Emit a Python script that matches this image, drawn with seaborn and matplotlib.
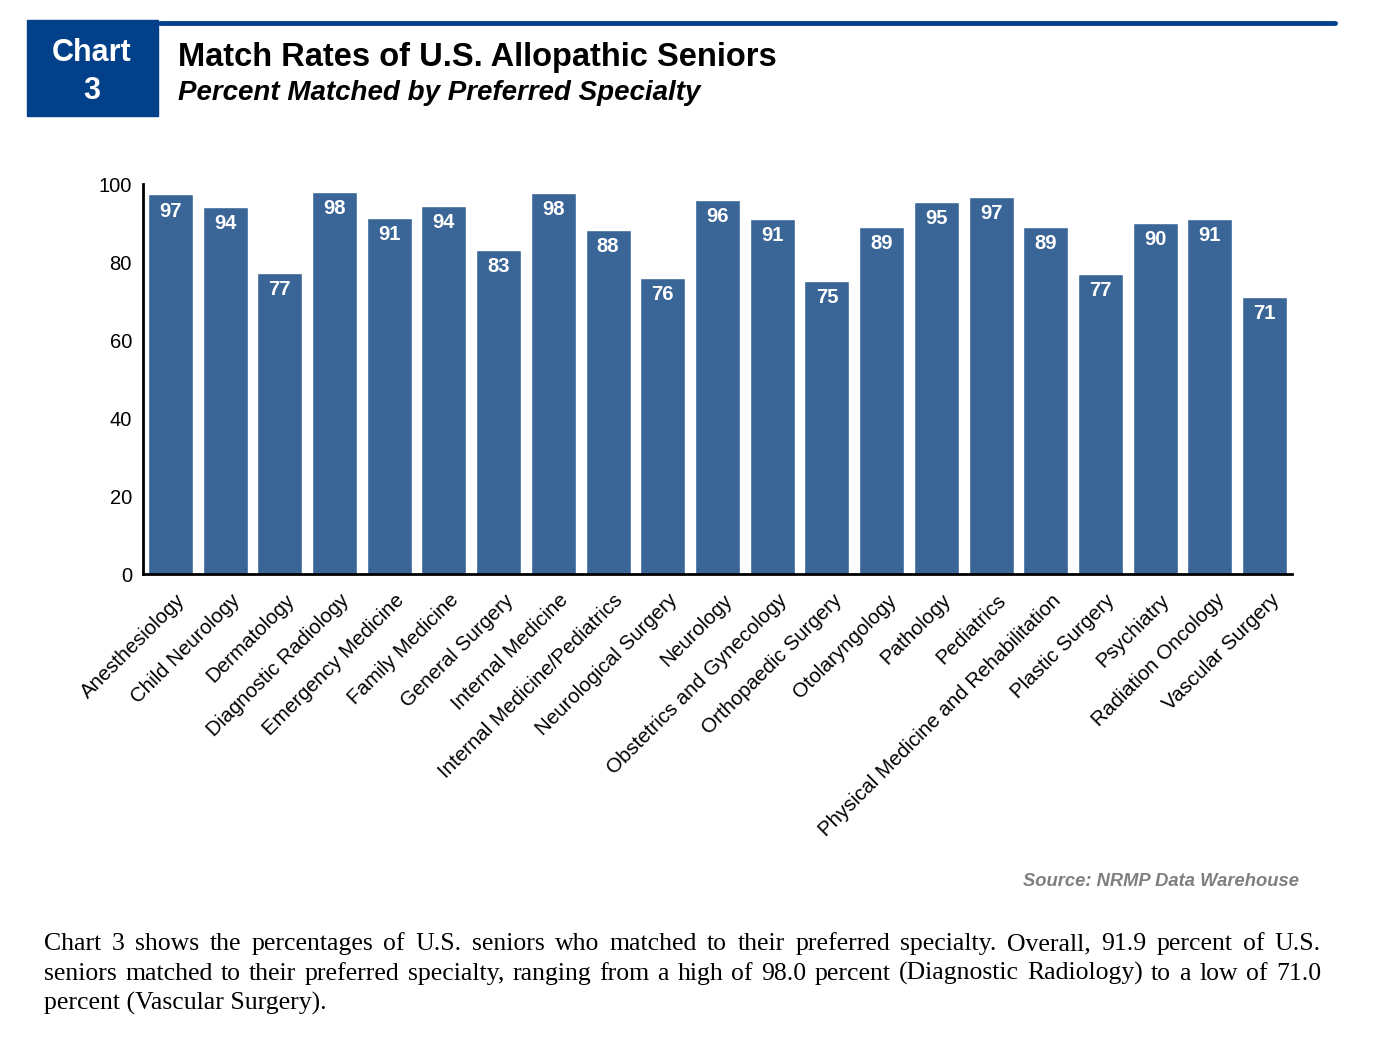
import matplotlib
matplotlib.use("Agg")
import matplotlib.pyplot as plt
import matplotlib.transforms as mtransforms
import seaborn as sns
import pandas as pd
from matplotlib.patches import Rectangle
from matplotlib.lines import Line2D

specialties = [
    "Anesthesiology", "Child Neurology", "Dermatology", "Diagnostic Radiology",
    "Emergency Medicine", "Family Medicine", "General Surgery", "Internal Medicine",
    "Internal Medicine/Pediatrics", "Neurological Surgery", "Neurology",
    "Obstetrics and Gynecology", "Orthopaedic Surgery", "Otolaryngology",
    "Pathology", "Pediatrics", "Physical Medicine and Rehabilitation",
    "Plastic Surgery", "Psychiatry", "Radiation Oncology", "Vascular Surgery",
]
match_rates = [97.4, 94.1, 77.2, 98.0, 91.3, 94.4, 83.1, 97.7, 88.2, 75.9, 95.9,
               91.0, 75.1, 89.0, 95.4, 96.7, 89.0, 76.9, 90.0, 91.0, 71.0]

body_lines = [
    "Chart 3 shows the percentages of U.S. seniors who matched to their preferred specialty. Overall, 91.9 percent of U.S.",
    "seniors matched to their preferred specialty, ranging from a high of 98.0 percent (Diagnostic Radiology) to a low of 71.0",
    "percent (Vascular Surgery).",
]

W, H = 1374, 1038
BAR = "#3A6597"
NAVY = "#03408A"
SERIF = ["Liberation Serif", "DejaVu Serif"]

sns.set_theme(style="white")
plt.rcParams["font.family"] = ["Liberation Sans", "DejaVu Sans"]
plt.rcParams["text.color"] = "black"

fig = plt.figure(figsize=(W / 100, H / 100), dpi=100)
fig.patch.set_facecolor("white")

# chart area
ax = fig.add_axes([143 / W, 1 - 574 / H, (1292 - 143) / W, (574 - 184) / H])
df = pd.DataFrame({"specialty": specialties, "rate": match_rates})
sns.barplot(data=df, x="specialty", y="rate", color=BAR, saturation=1,
            width=0.82, ax=ax)
ax.set_xlim(-0.5, 20.5)
ax.set_ylim(0, 100)
ax.set_yticks(range(0, 101, 20))
ax.set_xlabel("")
ax.set_ylabel("")
for s in ["top", "right"]:
    ax.spines[s].set_visible(False)
for s in ["left", "bottom"]:
    ax.spines[s].set_color("black")
    ax.spines[s].set_linewidth(2)
ax.tick_params(axis="y", length=0, pad=8, labelsize=14.5, labelcolor="black")
ax.tick_params(axis="x", length=0, pad=12, labelsize=14.8, labelcolor="black")
shift = mtransforms.ScaledTranslation(0.05, 0, fig.dpi_scale_trans)
for lab in ax.get_xticklabels():
    lab.set_rotation(45)
    lab.set_ha("right")
    lab.set_va("top")
    lab.set_rotation_mode("anchor")
    lab.set_transform(lab.get_transform() + shift)

ax.bar_label(ax.containers[0], labels=[f"{v:.0f}" for v in match_rates],
             padding=-19, color="white", fontsize=14.5, fontweight="bold")

# header
fig.patches.append(Rectangle((27 / W, 1 - 116 / H), (158 - 27) / W, 96 / H,
                             transform=fig.transFigure, color=NAVY, zorder=0))
fig.text(92 / W, 1 - 53 / H, "Chart", color="white", fontsize=22,
         fontweight="bold", ha="center", va="center")
fig.text(92 / W, 1 - 91 / H, "3", color="white", fontsize=22,
         fontweight="bold", ha="center", va="center")
fig.lines.append(Line2D([160 / W, 1335 / W], [1 - 23 / H, 1 - 23 / H],
                        transform=fig.transFigure, color=NAVY, lw=3.5))
fig.text(178 / W, 1 - 66 / H, "Match Rates of U.S. Allopathic Seniors",
         fontsize=23.5, fontweight="bold", ha="left", va="baseline")
fig.text(178 / W, 1 - 100 / H, "Percent Matched by Preferred Specialty",
         fontsize=20, fontweight="bold", style="italic", ha="left",
         va="baseline")

fig.text(1299 / W, 1 - 886 / H, "Source: NRMP Data Warehouse", color="#7F7F7F",
         fontsize=13.2, fontweight="bold", style="italic", ha="right",
         va="baseline")

# body paragraph, justified like the original
renderer = fig.canvas.get_renderer()
x0, x1 = 44, 1321
baselines = [950, 980, 1010]
for i, (line, yb) in enumerate(zip(body_lines, baselines)):
    if i == len(body_lines) - 1:
        fig.text(x0 / W, 1 - yb / H, line, fontsize=18.5, family=SERIF,
                 va="baseline")
        continue
    words = line.split()
    texts = [fig.text(0, 1 - yb / H, w, fontsize=18.5, family=SERIF,
                      va="baseline") for w in words]
    widths = [t.get_window_extent(renderer).width for t in texts]
    gap = (x1 - x0 - sum(widths)) / (len(words) - 1)
    x = x0
    for t, w in zip(texts, widths):
        t.set_x(x / W)
        x += w + gap

fig.savefig("out.png", dpi=100)
